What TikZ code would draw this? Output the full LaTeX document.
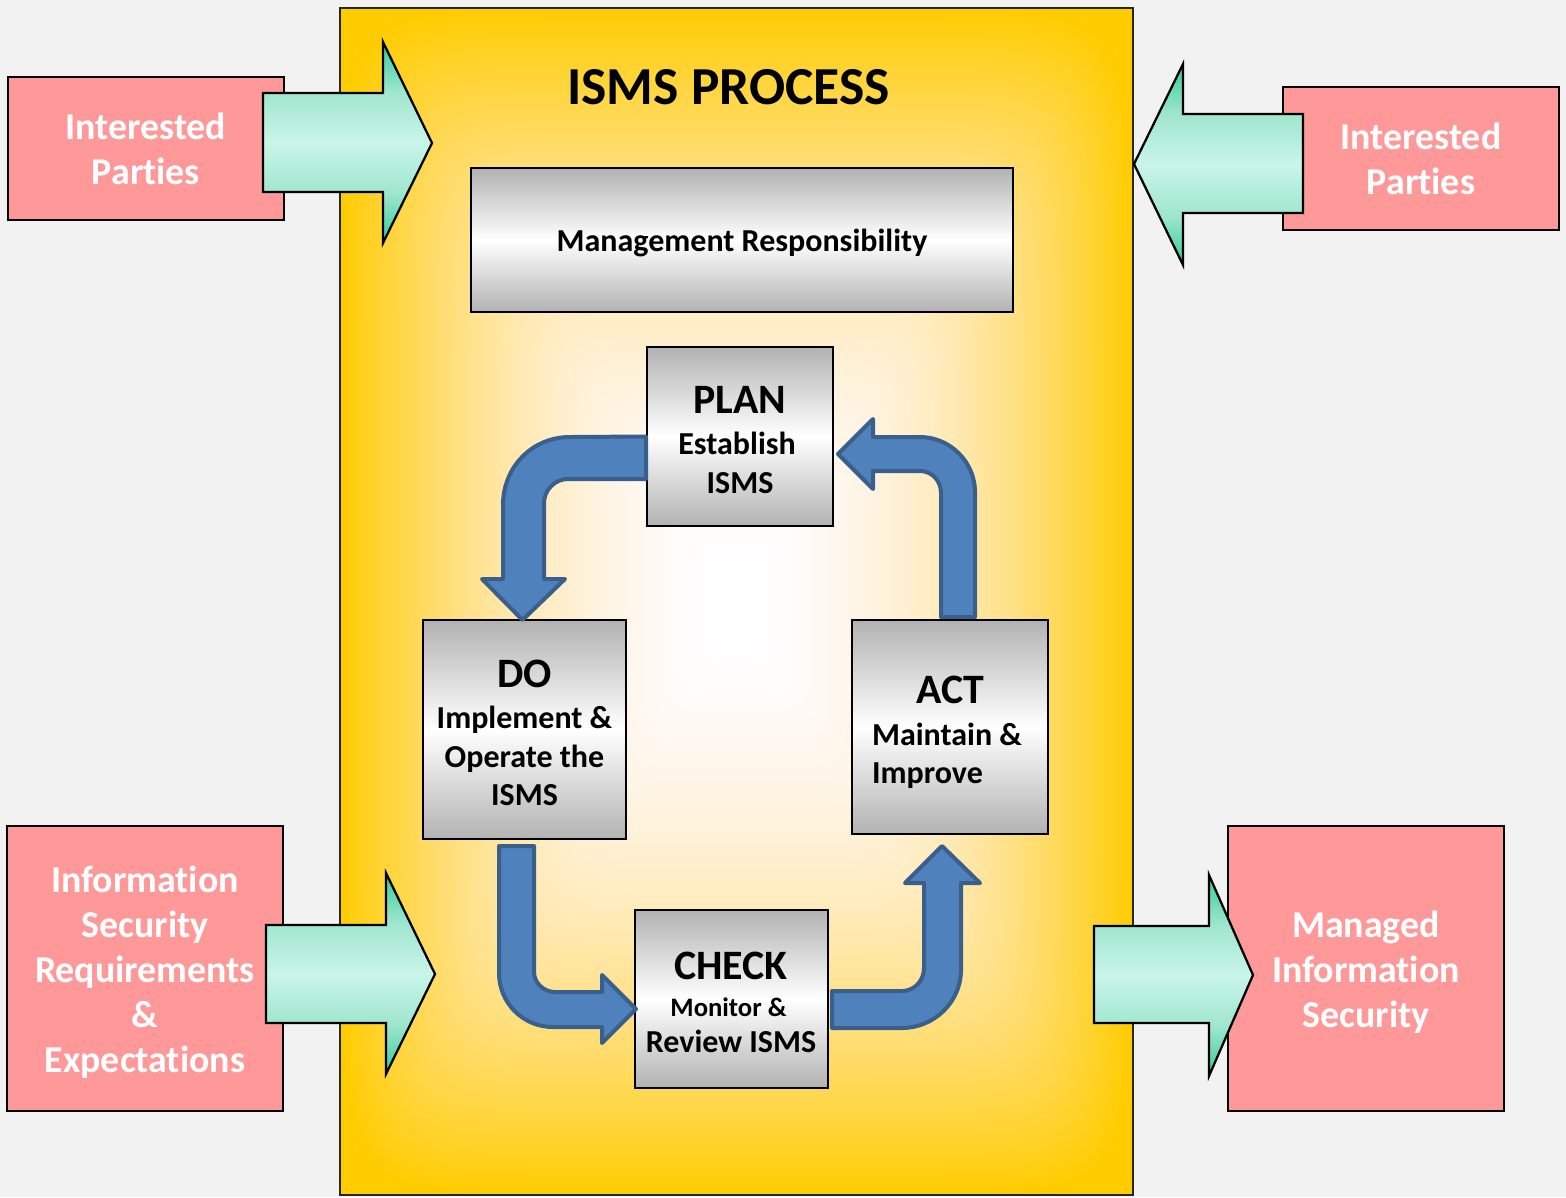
\documentclass[tikz,border=0pt]{standalone}
\usepackage{fontspec}
\setmainfont[Ligatures=CommonOff]{Carlito}
\usetikzlibrary{calc}
\definecolor{bgcol}{HTML}{F2F2F2}
\definecolor{pinkcol}{HTML}{FF9999}
\definecolor{bluefill}{HTML}{4F81BD}
\definecolor{blueline}{HTML}{3A5F8B}
\definecolor{mintA}{HTML}{33CC99}
\definecolor{mintB}{HTML}{A0E6CF}
\definecolor{mintC}{HTML}{C9F5E8}
\definecolor{greyA}{HTML}{B2B2B2}
\pgfdeclarefunctionalshading{goldrect}{\pgfpoint{-50bp}{-50bp}}{\pgfpoint{50bp}{50bp}}{}{
  abs 25 div 10 exp exch abs 25 div 10 exp add 0.1 exp dup 1 gt {pop 1} if
  dup 1.4 exp 0.2 mul 1 exch sub exch dup mul 1 exch sub 1 3 1 roll
}
\pgfdeclareverticalshading{mintshade}{100bp}{color(0bp)=(mintA); color(25bp)=(mintA); color(37.5bp)=(mintB); color(50bp)=(mintC); color(62.5bp)=(mintB); color(75bp)=(mintA); color(100bp)=(mintA)}
\pgfdeclareverticalshading{greyshade}{100bp}{color(0bp)=(greyA); color(25bp)=(greyA); color(50bp)=(white); color(75bp)=(greyA); color(100bp)=(greyA)}
\def\px{0.75pt}
\newcommand\sz[1]{\fontsize{#1}{30}\selectfont}
\tikzset{
  x=0.75pt,y=-0.75pt,
  outline/.style={draw=black,line width=1.7pt},
  panel/.style={outline,shading=goldrect,draw=black!85},
  pinkbox/.style={outline,fill=pinkcol,inner sep=0pt,outer sep=0pt,text=white,align=center,font=\bfseries\fontsize{28.4}{33.75}\selectfont},
  greybox/.style={outline,shading=greyshade,inner sep=0pt,outer sep=0pt},
  boxtext/.style={align=center,inner sep=0pt,font=\bfseries\fontsize{24}{30}\selectfont},
  mintarrow/.style={outline,shading=mintshade,line join=miter},
  bluearrow/.style={draw=blueline,fill=bluefill,line width=3pt,line join=round}
}
\begin{document}
\begin{tikzpicture}
\path[use as bounding box,fill=bgcol] (0,0) rectangle (1566,1197);
% main panel
\node[panel,inner sep=0pt,outer sep=0pt,minimum width=793*\px,minimum height=1187*\px] (main) at (736.5,601.5) {};
\node[inner sep=0pt,font=\bfseries\fontsize{40.1}{42}\selectfont] (title) at (728.5,87) {ISMS PROCESS};
% grey boxes
\node[greybox,minimum width=542*\px,minimum height=144*\px,font=\bfseries\fontsize{24}{28}\selectfont] (mgmt) at (742,240) {\raisebox{-8.5pt}[0pt][0pt]{Management Responsibility}};
\node[greybox,minimum width=186*\px,minimum height=179*\px] (plan) at (740,436.5) {};
\node[greybox,minimum width=203*\px,minimum height=219*\px] (do) at (524.5,729.5) {};
\node[greybox,minimum width=196*\px,minimum height=214*\px] (act) at (950,727) {};
\node[greybox,minimum width=193*\px,minimum height=178*\px] (check) at (731.5,999) {};
% box texts
\node[boxtext] (plantext) at (740,440) {\sz{31.4}PLAN\\[0.75pt]Establish\rule{4.5pt}{0pt}\\[-0.75pt]ISMS};
\node[boxtext] (dotext) at (524.5,733) {\sz{31.4}DO\\[0.75pt]Implement \&\\[-0.75pt]Operate the\\[-1.5pt]ISMS};
\node[boxtext,align=left] (acttext) at (947,732) {\hspace*{33.25pt}\sz{31.4}ACT\\[1.5pt]Maintain \&\\[-1.5pt]Improve};
\node[boxtext] (checktext) at (731,1002) {\sz{31.4}CHECK\\[-2.25pt]\sz{20}Monitor \&\rule{3.75pt}{0pt}\\[-3pt]Review ISMS};
% pink boxes
\node[pinkbox,minimum width=276*\px,minimum height=143*\px] (tl) at (146,148.5) {\rule{0pt}{21pt}Interested\\Parties};
\node[pinkbox,minimum width=276*\px,minimum height=143*\px] (tr) at (1421,158.5) {\rule{0pt}{21pt}Interested\\Parties};
\node[pinkbox,minimum width=276*\px,minimum height=285*\px] (bl) at (145,968.5) {\rule{0pt}{26pt}Information\\Security\\Requirements\\\&\\Expectations};
\node[pinkbox,minimum width=276*\px,minimum height=285*\px] (br) at (1366,968.5) {\rule{0pt}{26pt}Managed\\Information\\Security};
% mint block arrows
\draw[mintarrow] (263,93) -- (383,93) -- (383,42) -- (432,143) -- (383,243) -- (383,192) -- (263,192) -- cycle;
\draw[mintarrow] (1303,114) -- (1183,114) -- (1183,64) -- (1134,164) -- (1183,265) -- (1183,213) -- (1303,213) -- cycle;
\draw[mintarrow] (266,925) -- (386,925) -- (386,873) -- (435,974) -- (386,1074) -- (386,1023) -- (266,1023) -- cycle;
\draw[mintarrow] (1094,926) -- (1209,926) -- (1209,875) -- (1253,975) -- (1209,1076) -- (1209,1023) -- (1094,1023) -- cycle;
% blue bent arrows between the PDCA boxes
\draw[bluearrow] ($(plan.west)+(-1,0)$) -- (570,437) .. controls (532,437) and (503,467) .. (503,505) -- (503,579) -- (482,579) -- ($(do.north)+(-2,0)$) -- (565,579) -- (544,579) -- (544,503) .. controls (544,490) and (555,479) .. (568,479) -- (646,479) -- cycle;
\draw[bluearrow] (838,454) -- (873,419) -- (873,437) -- (920,437) .. controls (950,437) and (975,462) .. (975,492) -- (975,617) -- (941,617) -- (941,493) .. controls (941,481) and (932,471) .. (920,471) -- (873,471) -- (873,489) -- cycle;
\draw[bluearrow] (499,846) -- (534,846) -- (534,972) .. controls (534,983) and (544,992) .. (555,992) -- (602,992) -- (602,975) -- (636,1009) -- (602,1043) -- (602,1027) -- (553,1027) .. controls (523,1027) and (499,1003) .. (499,973) -- cycle;
\draw[bluearrow] (832,991) -- (902,991) .. controls (914,991) and (924,981) .. (924,968) -- (924,883) -- (905,883) -- (942,846) -- (980,883) -- (961,883) -- (961,970) .. controls (961,1002) and (934,1028) .. (902,1028) -- (832,1028) -- cycle;
\end{tikzpicture}
\end{document}
